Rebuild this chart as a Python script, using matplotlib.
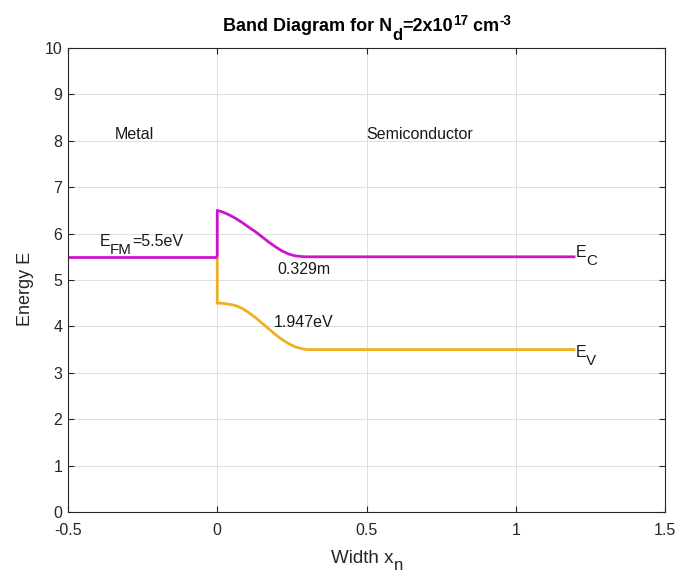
import matplotlib
matplotlib.use("Agg")
import matplotlib.pyplot as plt
from matplotlib.transforms import offset_copy

plt.rcParams['font.family'] = ['Liberation Sans', 'DejaVu Sans']

# Metal Fermi level
metal_x = [-0.5, 0.0]
metal_E = [5.5, 5.5]

# Conduction band (semiconductor side)
ec_x = [0.0, 0.0, 0.016, 0.038, 0.061, 0.083, 0.105, 0.128, 0.150, 0.172, 0.194, 0.216, 0.239, 0.261, 0.283, 0.30, 1.2]
ec_E = [5.5, 6.5, 6.47, 6.41, 6.33, 6.24, 6.14, 6.04, 5.93, 5.82, 5.72, 5.63, 5.56, 5.52, 5.505, 5.50, 5.50]

# Valence band
ev_x = [0.0, 0.0, 0.016, 0.038, 0.061, 0.083, 0.105, 0.128, 0.150, 0.172, 0.194, 0.216, 0.239, 0.261, 0.283, 0.30, 1.2]
ev_E = [5.5, 4.5, 4.50, 4.48, 4.45, 4.39, 4.30, 4.19, 4.07, 3.95, 3.83, 3.72, 3.63, 3.56, 3.52, 3.50, 3.50]

xticks = [-0.5, 0, 0.5, 1, 1.5]
xtick_labels = ['-0.5', '0', '0.5', '1', '1.5']
yticks = list(range(0, 11))

W, H = 678, 575
fig = plt.figure(figsize=(W / 100, H / 100), dpi=100)
ax = fig.add_axes([68 / W, 1 - 512 / H, (665 - 68) / W, (512 - 48) / H])

tc = '#262626'
mag = '#CC14CC'
org = '#EDB120'
ax.plot(ev_x, ev_E, color=org, lw=2.0, solid_capstyle='butt', solid_joinstyle='round')
ax.plot(metal_x, metal_E, color=mag, lw=2.0, solid_capstyle='butt')
ax.plot(ec_x, ec_E, color=mag, lw=2.0, solid_capstyle='butt', solid_joinstyle='round')

ax.set_xlim(-0.5, 1.5)
ax.set_ylim(0, 10)
ax.set_xticks(xticks)
ax.set_xticklabels(xtick_labels)
ax.set_yticks(yticks)
ax.grid(True, color='#DFDFDF', lw=0.7)
ax.set_axisbelow(True)
ax.tick_params(direction='in', length=4, labelsize=11.5, color=tc, labelcolor=tc, top=True, right=True)
ax.tick_params(axis='x', pad=8)
ax.tick_params(axis='y', pad=4)
for s in ax.spines.values():
    s.set_color(tc)
    s.set_linewidth(0.8)


def rich(x, y, pieces, transform, size, weight='normal', color='#1a1a1a', center=False):
    """pieces: list of (string, scale, baseline shift in points)."""
    first = fig.text(x, y, pieces[0][0], transform=transform, fontsize=size * pieces[0][1],
                     fontweight=weight, color=color, ha='left', va='baseline')
    arts = [first]
    prev, prev_dy = first, pieces[0][2]
    for s, sc, dy in pieces[1:]:
        a = ax.annotate(s, xy=(1, 0), xycoords=prev, xytext=(0, dy - prev_dy),
                        textcoords='offset points', ha='left', va='bottom',
                        fontsize=size * sc, fontweight=weight, color=color,
                        annotation_clip=False)
        arts.append(a)
        prev, prev_dy = a, dy
    if center:
        fig.canvas.draw()
        r = fig.canvas.get_renderer()
        left = arts[0].get_window_extent(r).x0
        right = arts[-1].get_window_extent(r).x1
        w = right - left
        first.set_transform(offset_copy(transform, fig=fig, x=-w / 2, y=0, units='dots'))
    return arts


# Title
rich(367 / W, 1 - 30.7 / H,
     [('Band Diagram for N', 1, 0), ('d', 0.92, -6.0), ('=2x10', 1, 0), ('17', 0.75, 4.6),
      (' cm', 1, 0), ('-3', 0.75, 4.6)],
     fig.transFigure, 13, weight='bold', color='black', center=True)

# X label
rich(367 / W, 1 - 563 / H, [('Width x', 1, 0), ('n', 0.9, -4.0)],
     fig.transFigure, 13.5, color=tc, center=True)

# Y label
fig.text(26 / W, 1 - 289 / H, 'Energy E', rotation=90, ha='center', va='center',
         fontsize=13, color=tc)

# Annotations inside the axes
txt = '#1a1a1a'
rich(-0.395, 5.74, [('E', 1, 0), ('FM', 0.95, -6.0), ('=5.5eV', 1, 0)], ax.transData, 11.5)
ax.text(-0.345, 8.04, 'Metal', fontsize=11.5, color=txt, va='baseline')
ax.text(0.5, 8.04, 'Semiconductor', fontsize=11.5, color=txt, va='baseline')
ax.text(0.20, 5.14, '0.329m', fontsize=11.5, color=txt, va='baseline')
ax.text(0.189, 3.99, '1.947eV', fontsize=11.5, color=txt, va='baseline')
rich(1.2, 5.50, [('E', 1, 0), ('C', 0.95, -5.6)], ax.transData, 11.5)
rich(1.2, 3.35, [('E', 1, 0), ('V', 0.95, -6.0)], ax.transData, 11.5)

fig.savefig('out.png', dpi=100)
